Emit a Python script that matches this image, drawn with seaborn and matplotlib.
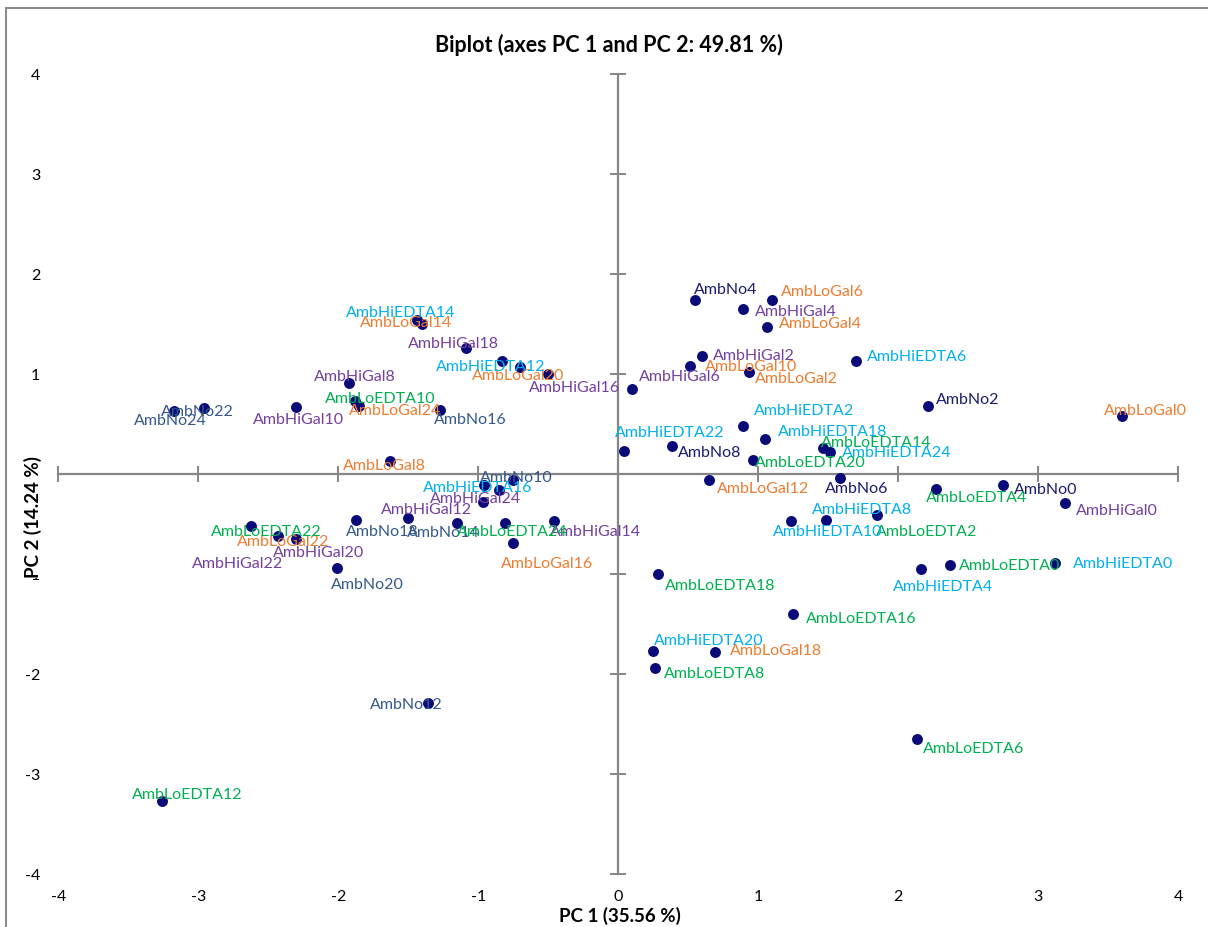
import numpy as np
import pandas as pd
import matplotlib
matplotlib.use("Agg")
import matplotlib.pyplot as plt
import seaborn as sns
from matplotlib.lines import Line2D

# ---------------- data ----------------
times = [0, 2, 4, 6, 8, 10, 12, 14, 16, 18, 20, 22, 24]
groups = ["AmbNo", "AmbLoGal", "AmbHiGal", "AmbLoEDTA", "AmbHiEDTA"]

amb_no_pc1 = [2.75, 2.21, 0.55, 1.58, 0.38, -0.75, -1.36, -1.15, -1.27, -1.87, -2.01, -2.96, -3.17]
amb_no_pc2 = [-0.11, 0.68, 1.74, -0.04, 0.28, -0.06, -2.29, -0.49, 0.64, -0.46, -0.94, 0.66, 0.63]

amb_logal_pc1 = [3.60, 0.93, 1.06, 1.10, -1.63, 0.51, 0.65, -1.40, -0.75, 0.69, -0.70, -2.43, -1.85]
amb_logal_pc2 = [0.58, 1.02, 1.47, 1.74, 0.13, 1.08, -0.06, 1.50, -0.69, -1.78, 1.07, -0.62, 0.68]

amb_higal_pc1 = [3.19, 0.60, 0.89, 0.10, -1.92, -2.30, -1.50, -0.46, -0.50, -1.09, -2.30, -0.85, -0.97]
amb_higal_pc2 = [-0.29, 1.18, 1.65, 0.85, 0.91, 0.67, -0.44, -0.47, 1.00, 1.26, -0.65, -0.16, -0.28]

amb_loedta_pc1 = [2.37, 1.85, 2.27, 2.13, 0.26, -1.88, -3.26, 1.46, 1.25, 0.28, 0.96, -2.62, -0.81]
amb_loedta_pc2 = [-0.91, -0.41, -0.15, -2.65, -1.94, 0.73, -3.27, 0.26, -1.40, -1.00, 0.14, -0.52, -0.49]

amb_hiedta_pc1 = [3.12, 0.89, 2.16, 1.70, 1.48, 1.23, -0.83, -1.44, -0.96, 1.05, 0.25, 0.04, 1.51]
amb_hiedta_pc2 = [-0.89, 0.48, -0.95, 1.13, -0.46, -0.47, 1.13, 1.54, -0.11, 0.35, -1.77, 0.23, 0.22]

x_ticks = [-4, -3, -2, -1, 0, 1, 2, 3, 4]
y_ticks = [-4, -3, -2, -1, 0, 1, 2, 3, 4]

title = "Biplot (axes PC 1 and PC 2: 49.81 %)"
x_label = "PC 1 (35.56 %)"
y_label = "PC 2 (14.24 %)"

# ---------------- layout / style ----------------
# label offsets in pixels (dx right, dy down) from each point, per group in time order
label_offsets = {
    "AmbNo": [(42, 4), (40, -7), (30, -11), (17, 10), (38, 6), (3, -3), (-22, 1),
              (-14, 9), (30, 9), (26, 11), (30, 16), (-7, 3), (-4, 9)],
    "AmbLoGal": [(23, -6), (48, 6), (54, -4), (50, -9), (-6, 4), (61, 0), (54, 8),
                 (-16, -2), (34, 20), (61, -2), (-2, 8), (5, 5), (36, 4)],
    "AmbHiGal": [(52, 7), (52, -1), (53, 2), (48, -13), (5, -7), (2, 12), (18, -9),
                 (42, 10), (26, 13), (-12, -5), (22, 13), (-262, 73), (-7, -4)],
    "AmbLoEDTA": [(60, 0), (49, 16), (41, 8), (57, 9), (60, 5), (25, -3), (25, -7),
                  (54, -6), (68, 4), (63, 11), (58, 2), (15, 5), (7, 8)],
    "AmbHiEDTA": [(68, 0), (61, -16), (22, 17), (61, -5), (37, -11), (37, 10), (-11, 5),
                  (-16, -8), (-6, 2), (67, -8), (55, -11), (46, -19), (67, 0)],
}
group_colors = {
    "AmbNo": "#34598A",
    "AmbLoGal": "#ED7D31",
    "AmbHiGal": "#7440A0",
    "AmbLoEDTA": "#00B050",
    "AmbHiEDTA": "#00B0F0",
}
amb_no_early_color = "#1B1B70"
dot_color = "#0A0A78"
axis_gray = "#868686"

pc1 = {"AmbNo": amb_no_pc1, "AmbLoGal": amb_logal_pc1, "AmbHiGal": amb_higal_pc1,
       "AmbLoEDTA": amb_loedta_pc1, "AmbHiEDTA": amb_hiedta_pc1}
pc2 = {"AmbNo": amb_no_pc2, "AmbLoGal": amb_logal_pc2, "AmbHiGal": amb_higal_pc2,
       "AmbLoEDTA": amb_loedta_pc2, "AmbHiEDTA": amb_hiedta_pc2}

rows = []
for g in groups:
    for i, t in enumerate(times):
        rows.append({"obs": f"{g}{t}", "group": g, "time": t,
                     "PC1": pc1[g][i], "PC2": pc2[g][i]})
df = pd.DataFrame(rows)

# ---------------- plotting ----------------
sns.set_theme(style="white")
plt.rcParams["font.family"] = ["Lato", "DejaVu Sans"]

W, H = 1208, 928
fig = plt.figure(figsize=(W / 100, H / 100), dpi=100)
left_px, right_px, top_px, bottom_px = 58.3, 1178.3, 75, 875
ax = fig.add_axes([left_px / W, 1 - bottom_px / H,
                   (right_px - left_px) / W, (bottom_px - top_px) / H])
ax.set_xlim(-4, 4)
ax.set_ylim(-4, 4)
ax.set_facecolor("white")

sns.scatterplot(data=df, x="PC1", y="PC2", color=dot_color, s=62, linewidth=0,
                ax=ax, zorder=4, clip_on=False, legend=False)

for g in groups:
    sub = df[df.group == g].reset_index(drop=True)
    for i, r in sub.iterrows():
        col = group_colors[g]
        if g == "AmbNo" and r.time <= 8:
            col = amb_no_early_color
        dx, dy = label_offsets[g][i]
        ax.annotate(r.obs, (r.PC1, r.PC2), xytext=(dx, -dy), textcoords="offset pixels",
                    ha="center", va="center", color=col, fontsize=11.5, zorder=5,
                    annotation_clip=False)

# primary axes: only tick labels (low position), no spines
for s in ax.spines.values():
    s.set_visible(False)
ax.set_xticks(x_ticks)
ax.set_yticks(y_ticks)
ax.set_xticklabels([str(v) for v in x_ticks])
ax.set_yticklabels([str(v) for v in y_ticks])
ax.tick_params(axis="x", length=0, pad=11, labelsize=11.5, colors="black")
ax.tick_params(axis="y", length=0, pad=13, labelsize=11.5, colors="black")
ax.grid(False)

# crossing axes through the origin
y0 = (0 - ax.get_ylim()[0]) / (ax.get_ylim()[1] - ax.get_ylim()[0])
x0 = (0 - ax.get_xlim()[0]) / (ax.get_xlim()[1] - ax.get_xlim()[0])
sx = ax.secondary_xaxis(y0)
sx.set_xticks(x_ticks)
sx.tick_params(direction="inout", length=11, width=1.4, color=axis_gray,
               labeltop=False, labelbottom=False)
for s in sx.spines.values():
    s.set_color(axis_gray)
    s.set_linewidth(1.6)
sy = ax.secondary_yaxis(x0)
sy.set_yticks(y_ticks)
sy.tick_params(direction="inout", length=11, width=1.4, color=axis_gray,
               labelleft=False, labelright=False)
for s in sy.spines.values():
    s.set_color(axis_gray)
    s.set_linewidth(1.6)

ax.set_xlabel(x_label, fontsize=13.5, fontweight="bold", color="black")
ax.xaxis.set_label_coords((620 - left_px) / (right_px - left_px),
                          -(907 - bottom_px) / (bottom_px - top_px))
ax.set_ylabel(y_label, fontsize=13.5, fontweight="bold", color="black",
              bbox=dict(facecolor="white", edgecolor="none", pad=1))
ax.yaxis.set_label_coords((42 - left_px) / (right_px - left_px),
                          (bottom_px - 517) / (bottom_px - top_px))

fig.text(609 / W, 1 - 45 / H, title, ha="center", va="center",
         fontsize=15.5, fontweight="bold", color="black")

# outer chart border (Excel chart area)
fig.add_artist(Line2D([6 / W, 6 / W], [0, 1 - 9 / H], color="#8C8C8C", lw=1.5,
                      transform=fig.transFigure))
fig.add_artist(Line2D([6 / W, 1], [1 - 9 / H, 1 - 9 / H], color="#8C8C8C", lw=1.5,
                      transform=fig.transFigure))

fig.savefig("out.png", dpi=100, facecolor="white")
